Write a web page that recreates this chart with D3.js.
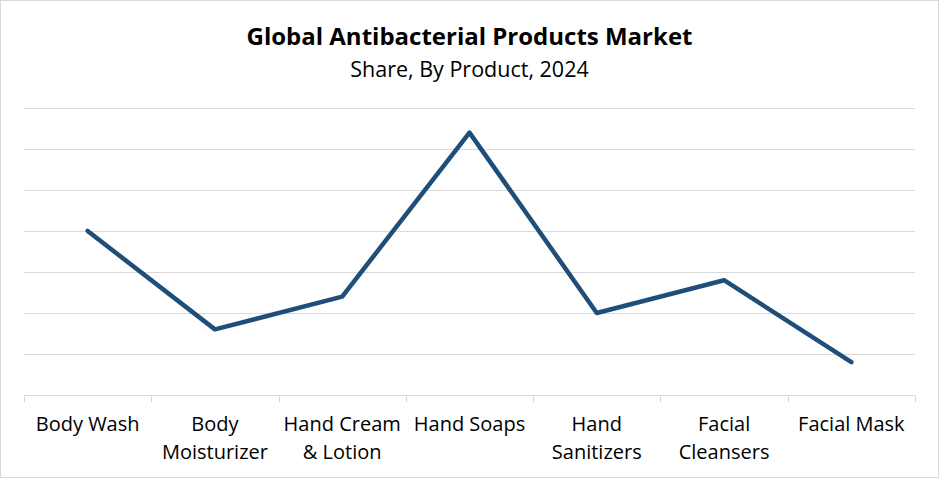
<!DOCTYPE html>
<html>
<head>
<meta charset="utf-8">
<script src="https://cdn.jsdelivr.net/npm/d3@7.9.0/dist/d3.min.js"></script>
<style>
  html, body { margin: 0; padding: 0; background: #fff; }
  text { font-family: "Open Sans", "Noto Sans", sans-serif; fill: #000; }
</style>
</head>
<body>
<div id="chart"></div>
<script>
// data
const products = ["Body Wash", "Body Moisturizer", "Hand Cream & Lotion", "Hand Soaps",
                  "Hand Sanitizers", "Facial Cleansers", "Facial Mask"];
const shares = [20, 8, 12, 32, 10, 14, 4];
// two-line axis labels as in the picture
const productLabels = [["Body Wash"], ["Body", "Moisturizer"], ["Hand Cream", "& Lotion"], ["Hand Soaps"],
                       ["Hand", "Sanitizers"], ["Facial", "Cleansers"], ["Facial Mask"]];
const gridTicks = [0, 5, 10, 15, 20, 25, 30, 35];

const W = 939, H = 479;
const margin = {top: 108, right: 24, bottom: 84, left: 24};
const width = W - margin.left - margin.right,
      height = H - margin.top - margin.bottom;

const svg = d3.select("#chart").append("svg")
    .attr("width", W)
    .attr("height", H);

// outer chart border
svg.append("rect")
    .attr("x", 0.5).attr("y", 0.5)
    .attr("width", W - 1).attr("height", H - 2)
    .attr("fill", "#fff")
    .attr("stroke", "#d9d9d9");

svg.append("text")
    .attr("x", W / 2).attr("y", 45)
    .attr("text-anchor", "middle")
    .attr("font-size", 24)
    .attr("font-weight", "bold")
    .text("Global Antibacterial Products Market");

svg.append("text")
    .attr("x", W / 2).attr("y", 77)
    .attr("text-anchor", "middle")
    .attr("font-size", 21.5)
    .text("Share, By Product, 2024");

const g = svg.append("g")
    .attr("transform", "translate(" + margin.left + "," + margin.top + ")");

const x = d3.scaleBand()
    .domain(products)
    .range([0, width]);

const y = d3.scaleLinear()
    .domain([0, 35])
    .range([height, 0]);

// horizontal gridlines
g.selectAll(".grid")
    .data(gridTicks.slice(1))
    .enter()
    .append("line")
    .attr("x1", 0).attr("x2", width)
    .attr("y1", d => Math.round(y(d)) + 0.5)
    .attr("y2", d => Math.round(y(d)) + 0.5)
    .attr("stroke", "#d9d9d9")
    .attr("stroke-width", 1);

// category axis with ticks at band boundaries
const xAxis = g.append("g")
    .attr("transform", "translate(0," + (Math.round(height) + 0.5) + ")");

xAxis.append("line")
    .attr("x1", 0).attr("x2", width)
    .attr("stroke", "#d9d9d9");

const bounds = products.map(p => x(p)).concat([width]);
xAxis.selectAll(".tick")
    .data(bounds)
    .enter()
    .append("line")
    .attr("x1", d => Math.round(d) + 0.5)
    .attr("x2", d => Math.round(d) + 0.5)
    .attr("y1", 0).attr("y2", 7)
    .attr("stroke", "#d9d9d9");

const labels = xAxis.selectAll(".lab")
    .data(products)
    .enter()
    .append("text")
    .attr("text-anchor", "middle")
    .attr("font-size", 20)
    .attr("x", d => x(d) + x.bandwidth() / 2)
    .attr("y", 35);

labels.selectAll("tspan")
    .data((d, i) => productLabels[i])
    .enter()
    .append("tspan")
    .attr("x", function() { return d3.select(this.parentNode).attr("x"); })
    .attr("dy", (d, i) => i === 0 ? 0 : 28)
    .text(d => d);

// the line
const line = d3.line()
    .x((d, i) => x(products[i]) + x.bandwidth() / 2)
    .y(d => y(d));

g.append("path")
    .datum(shares)
    .attr("d", line)
    .attr("fill", "none")
    .attr("stroke", "#1f4e79")
    .attr("stroke-width", 4.5)
    .attr("stroke-linejoin", "round")
    .attr("stroke-linecap", "round");
</script>
</body>
</html>
